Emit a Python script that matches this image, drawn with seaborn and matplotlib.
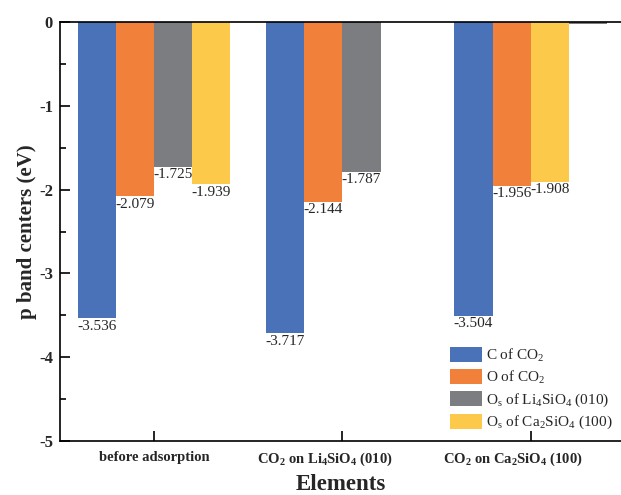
import re
import numpy as np
import pandas as pd
import matplotlib
matplotlib.use("Agg")
import matplotlib.pyplot as plt
from matplotlib.patches import Patch
from matplotlib.ticker import MultipleLocator
from matplotlib.transforms import ScaledTranslation
import seaborn as sns

# ---- data -------------------------------------------------------------
groups = ["before adsorption",
          "CO$_2$ on Li$_4$SiO$_4$ (010)",
          "CO$_2$ on Ca$_2$SiO$_4$ (100)"]

species = ["C of CO$_2$",
           "O of CO$_2$",
           "O$_s$ of Li$_4$SiO$_4$ (010)",
           "O$_s$ of Ca$_2$SiO$_4$ (100)"]

c_co2 = [-3.536, -3.717, -3.504]
o_co2 = [-2.079, -2.144, -1.956]
os_li = [-1.725, -1.787, -0.02]
os_ca = [-1.939, np.nan, -1.908]

colors = ["#4A72B8", "#F0803A", "#7B7D80", "#FDC94A"]

# column order of the species inside each group
slot_species = [[0, 1, 2, 3],
                [0, 1, 2, 3],
                [0, 1, 3, 2]]

series = [c_co2, o_co2, os_li, os_ca]

rows = []
for gi, g in enumerate(groups):
    for slot, si in enumerate(slot_species[gi]):
        v = series[si][gi]
        if not np.isnan(v):
            rows.append({"group": g, "slot": slot, "value": v})
df = pd.DataFrame(rows)

# ---- style ------------------------------------------------------------
sns.set_style("ticks")
plt.rcParams["font.family"] = ["Liberation Serif", "DejaVu Serif"]
plt.rcParams["mathtext.fontset"] = "custom"
plt.rcParams["mathtext.rm"] = "Liberation Serif"
plt.rcParams["mathtext.it"] = "Liberation Serif:italic"
plt.rcParams["mathtext.bf"] = "Liberation Serif:bold"
plt.rcParams["mathtext.default"] = "regular"

fig = plt.figure(figsize=(6.21, 4.95), dpi=100)
ax = fig.add_axes([60 / 621, 1 - 441 / 495, 1 - 60 / 621, 419 / 495])

sns.barplot(data=df, x="group", y="value", hue="slot", order=groups,
            hue_order=[0, 1, 2, 3], width=0.81, dodge=True,
            errorbar=None, saturation=1, legend=False, ax=ax,
            palette=colors)

# colour each bar by the species it represents and label its value
for slot, cont in enumerate(ax.containers):
    labels = []
    for bar in cont:
        xc = bar.get_x() + bar.get_width() / 2
        gi = int(round(xc))
        si = slot_species[gi][slot]
        bar.set_facecolor(colors[si])
        bar.set_edgecolor("none")
        h = bar.get_height()
        labels.append(f"{h:.3f}" if abs(h) > 0.1 else "")
    ax.bar_label(cont, labels=labels, padding=1, fontsize=11)

ax.set_xlim(-0.5, 2.48)
ax.set_ylim(-5, 0)
ax.yaxis.set_major_locator(MultipleLocator(1))
ax.yaxis.set_minor_locator(MultipleLocator(0.5))
ax.set_yticks([0, -1, -2, -3, -4, -5])
ax.set_yticklabels(["0", "-1", "-2", "-3", "-4", "-5"])

for sp in ["left", "bottom", "top"]:
    ax.spines[sp].set_linewidth(1.2)
    ax.spines[sp].set_color("black")
ax.spines["right"].set_visible(False)

ax.tick_params(axis="both", which="major", direction="in", length=7,
               width=1.2, color="black")
ax.tick_params(axis="y", which="minor", direction="in", length=4,
               width=1.2, color="black")
ax.tick_params(axis="x", which="both", top=False, pad=7)
ax.tick_params(axis="y", which="both", right=False, pad=5)

for lab in ax.get_yticklabels():
    lab.set_fontsize(12)
    lab.set_fontweight("bold")

# bold group names, subscripts included
bold_groups = [re.sub(r"\$_(\w+)\$", r"$_\\mathbf{\1}$", g) for g in groups]
ax.set_xticks(range(len(groups)))
ax.set_xticklabels(bold_groups, fontsize=10.5, fontweight="bold")
shift = ScaledTranslation(-18 / 100, 0, fig.dpi_scale_trans)
for lab in ax.get_xticklabels()[1:]:
    lab.set_transform(lab.get_transform() + shift)

ax.set_xlabel("Elements", fontsize=16.5, fontweight="bold", va="top")
ax.set_ylabel("p band centers (eV)", fontsize=15, fontweight="bold")
ax.xaxis.set_label_coords(0.5, -0.079)
ax.yaxis.set_label_coords(-0.041, 0.5)

handles = [Patch(facecolor=c, edgecolor="none") for c in colors]
ax.legend(handles, species, loc="lower right", frameon=False,
          fontsize=11, handlelength=2.1, handleheight=1.15,
          handletextpad=0.3, labelspacing=0.32,
          bbox_to_anchor=(1.01, -0.01))

fig.savefig("out.png", dpi=100)
